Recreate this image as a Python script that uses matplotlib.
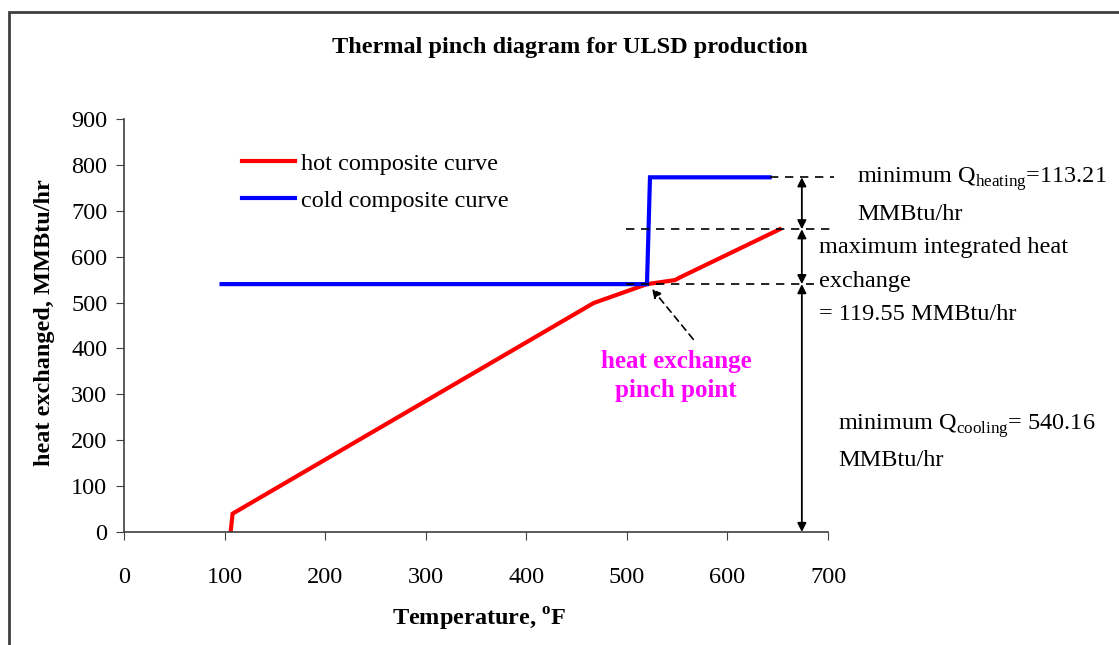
import matplotlib
matplotlib.use("Agg")
import matplotlib.pyplot as plt
from matplotlib.patches import Rectangle

plt.rcParams["font.family"] = ["Liberation Serif", "DejaVu Serif"]
plt.rcParams["mathtext.fontset"] = "custom"
plt.rcParams["mathtext.rm"] = "Liberation Serif"
plt.rcParams["mathtext.bf"] = "Liberation Serif:bold"

# composite curves (temperature in F, heat in MMBtu/hr)
hot_T = [106, 108, 467, 520, 548, 553, 652]
hot_Q = [0, 40, 499, 540.16, 549, 555, 659.71]
cold_T = [97, 520, 523, 642]
cold_Q = [540.16, 540.16, 772.92, 772.92]

q_cooling = 540.16
q_exchange = 119.55
q_heating = 113.21

x_ticks = [0, 100, 200, 300, 400, 500, 600, 700]
y_ticks = [0, 100, 200, 300, 400, 500, 600, 700, 800, 900]

W, H = 1119, 645
fs = 17.5
fig = plt.figure(figsize=(W / 100, H / 100), dpi=100)
ax = fig.add_axes([124 / W, 1 - 532 / H, 704 / W, 413 / H])

# outer chart frame
fig.patches.append(Rectangle((9 / W, -0.1), 1.2, 1 - 12 / H + 0.1,
                             transform=fig.transFigure, fill=False,
                             edgecolor="#404040", linewidth=2))

ax.plot(hot_T, hot_Q, color="red", lw=3, label="hot composite curve",
        solid_joinstyle="miter")
ax.plot(cold_T, cold_Q, color="blue", lw=3, label="cold composite curve",
        solid_joinstyle="miter")

ax.set_xlim(0, 700)
ax.set_ylim(0, 900)
ax.set_xticks(x_ticks)
ax.set_yticks(y_ticks)
for s in ["top", "right"]:
    ax.spines[s].set_visible(False)
for s in ["left", "bottom"]:
    ax.spines[s].set_color("#404040")
    ax.spines[s].set_linewidth(1.2)
ax.tick_params(axis="x", direction="out", length=6, pad=19, labelsize=fs,
               color="#404040")
ax.tick_params(axis="y", direction="out", length=6, pad=6, labelsize=fs,
               color="#404040")

leg = ax.legend(loc="upper left", bbox_to_anchor=(0.144, 0.96), frameon=False,
                fontsize=fs, handlelength=2.15, handletextpad=0.25,
                labelspacing=0.62, borderpad=0.2)

# reference levels
top_hot = q_cooling + q_exchange
top_cold = top_hot + q_heating
dash = dict(color="black", lw=1.2, ls=(0, (5, 4)), clip_on=False)
ax.plot([cold_T[-1], 706], [top_cold, top_cold], **dash)
ax.plot([499, 706], [top_hot, top_hot], **dash)
ax.plot([499, 686], [q_cooling, q_cooling], **dash)

# double-headed spans
x_arr = 674
arr = dict(arrowstyle="<|-|>", color="black", lw=1.3, mutation_scale=13,
           shrinkA=0, shrinkB=0)
for lo, hi in [(0, q_cooling), (q_cooling, top_hot), (top_hot, top_cold)]:
    ax.annotate("", xy=(x_arr, hi), xytext=(x_arr, lo), xycoords="data",
                arrowprops=arr, annotation_clip=False)

# pinch marker
ax.annotate("", xy=(525, 530), xytext=(566, 420),
            arrowprops=dict(arrowstyle="-|>", color="black", lw=1.2,
                            ls=(0, (4, 3)), mutation_scale=13, shrinkA=0,
                            shrinkB=0))
ax.text(549, 340, "heat exchange\npinch point", color="#ff00ff",
        fontweight="bold", fontsize=18, ha="center", va="center",
        linespacing=1.38)

# side notes
fig.text(857 / W, 1 - 179 / H, r"minimum Q$_{\mathrm{heating}}$=113.21",
         fontsize=fs, va="center")
fig.text(857 / W, 1 - 214 / H, "MMBtu/hr", fontsize=fs, va="center")
fig.text(819 / W, 1 - 248 / H, "maximum integrated heat", fontsize=fs,
         va="center")
fig.text(819 / W, 1 - 282 / H, "exchange", fontsize=fs, va="center")
fig.text(819 / W, 1 - 314 / H, "= 119.55 MMBtu/hr", fontsize=fs,
         va="center")
fig.text(838 / W, 1 - 426 / H, r"minimum Q$_{\mathrm{cooling}}$= 540.16",
         fontsize=fs, va="center")
fig.text(838 / W, 1 - 461 / H, "MMBtu/hr", fontsize=fs, va="center")

fig.text(570 / W, 1 - 47 / H, "Thermal pinch diagram for ULSD production",
         fontsize=fs, fontweight="bold", ha="center", va="center")
fig.text(45 / W, 1 - 323 / H, "heat exchanged, MMBtu/hr", fontsize=fs,
         fontweight="bold", rotation=90, ha="center", va="center")
fig.text(479 / W, 1 - 619 / H, r"Temperature, $^{\mathbf{o}}$F", fontsize=fs,
         fontweight="bold", ha="center", va="center")

fig.savefig("out.png", dpi=100)
